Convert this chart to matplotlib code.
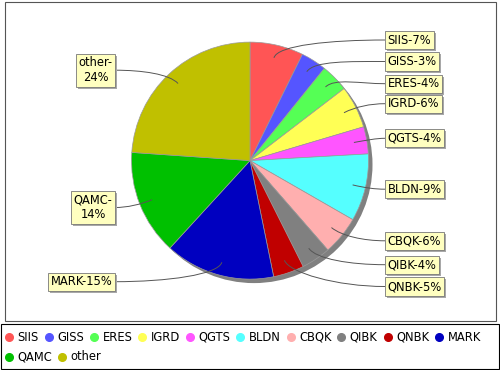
import numpy as np
import matplotlib
matplotlib.use('Agg')
import matplotlib.pyplot as plt
from matplotlib.patches import Circle, Rectangle, PathPatch
from matplotlib.path import Path

# slice data (shares, percent text as printed)
names = ['SIIS', 'GISS', 'ERES', 'IGRD', 'QGTS', 'BLDN', 'CBQK', 'QIBK', 'QNBK', 'MARK', 'QAMC', 'other']
shares = [7.3, 3.5, 3.8, 5.8, 3.7, 9.2, 5.3, 4.0, 4.2, 15.0, 14.3, 23.9]
pct_text = ['7%', '3%', '4%', '6%', '4%', '9%', '6%', '4%', '5%', '15%', '14%', '24%']
colors = ['#FF5555', '#5555FF', '#55FF55', '#FFFF55', '#FF55FF', '#55FFFF',
          '#FFAFAF', '#808080', '#C00000', '#0000C0', '#00C000', '#C0C000']

# label layout (pixel rows from top of the image)
label_row = [40, 61.5, 83.7, 103.7, 138.3, 189.2, 240.8, 264.7, 286.5, 281.7, 207.5, 70.2]
two_line = ['QAMC', 'other']

W, H = 500, 370
fig = plt.figure(figsize=(5, 3.7), dpi=100)
ax = fig.add_axes([0, 0, 1, 1])

cx, cy, R = 250, H - 160.6, 118.5
FS = 8.3

# pie shadow
ax.add_patch(Circle((cx + 4, cy - 4), R, fc='#808080', ec='none', zorder=0.5))

wedges, _ = ax.pie(shares, colors=colors, startangle=90, counterclock=False,
                   center=(cx, cy), radius=R,
                   wedgeprops=dict(edgecolor='#9a9a9a', linewidth=0.5))

ax.set_xlim(0, W)
ax.set_ylim(0, H)
ax.set_aspect('equal')
ax.axis('off')

pad_px = 0.22 * FS * 100 / 72
labels = []
for i, w in enumerate(wedges):
    mid = np.deg2rad((w.theta1 + w.theta2) / 2)
    d = np.array([np.cos(mid), np.sin(mid)])
    right = d[0] > 0
    y = H - label_row[i]
    edge_x = 385 if right else 115
    p0 = np.array([cx, cy]) + 0.89 * R * d
    p1 = np.array([cx, cy]) + 1.0 * R * d
    p3 = np.array([edge_x, y])
    p2 = np.array([(p1[0] + p3[0]) / 2, y])
    path = Path([p0, p1, p2, p3], [Path.MOVETO, Path.CURVE4, Path.CURVE4, Path.CURVE4])
    ax.add_patch(PathPatch(path, fc='none', ec='#555555', lw=0.7, zorder=3))

    sep = '-\n' if names[i] in two_line else '-'
    s = names[i] + sep + pct_text[i]
    tx = edge_x + pad_px if right else edge_x - pad_px
    ha = 'left' if right else 'right'
    t = ax.text(tx, y, s, fontsize=FS, ha=ha, va='center', multialignment='center',
                color='black', zorder=5,
                bbox=dict(boxstyle='square,pad=0.22', fc='#FFFFC0', ec='#777777', lw=0.6))
    labels.append(t)

# frames
ax.add_patch(Rectangle((5, H - 321), 491, 319, fill=False, ec='#555555', lw=0.8, zorder=6))
ax.add_patch(Rectangle((1, H - 369), 498, 45, fill=False, ec='black', lw=0.8, zorder=6))

fig.canvas.draw()
renderer = fig.canvas.get_renderer()

# label box shadows
for t in labels:
    bb = t.get_bbox_patch().get_window_extent(renderer)
    ax.add_patch(Rectangle((bb.x0 + 2, bb.y0 - 2), bb.width, bb.height,
                           fc='#a8a8a8', ec='none', zorder=4))

# legend, laid out left to right and wrapped
x = 9.3
y = H - 337.3
for name, col in zip(names, colors):
    t = ax.text(x + 8.4, y, name, fontsize=FS, ha='left', va='center', zorder=6)
    wpx = t.get_window_extent(renderer).width
    if x + 8.4 + wpx > 497:
        x = 9.3
        y -= 19.4
        t.set_position((x + 8.4, y))
    ax.plot([x], [y], 'o', ms=5.5, color=col, mec=col, zorder=6)
    x = x + 8.4 + wpx + 10

fig.savefig('out.png', dpi=100)
